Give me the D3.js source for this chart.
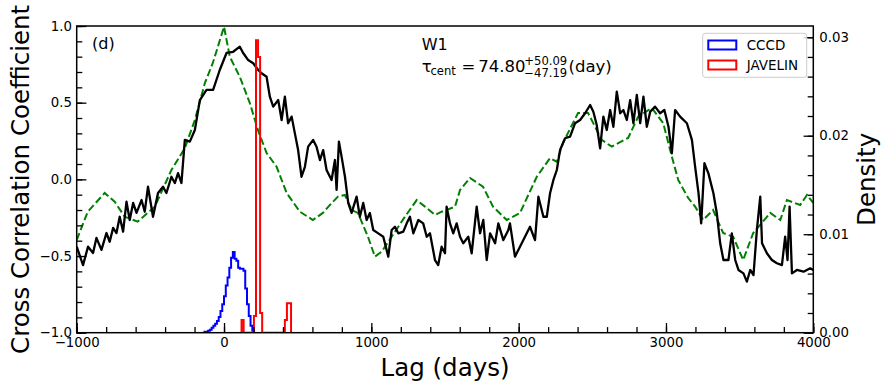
<!DOCTYPE html>
<html>
<head>
<meta charset="utf-8">
<script src="https://cdn.jsdelivr.net/npm/d3@7"></script>
<style>
  body { margin: 0; background: #fff; }
  text { font-family: "DejaVu Sans", sans-serif; fill: #000; }
</style>
</head>
<body>
<script>
// CCF of the W1 light curve (black, solid)
var ccfLag = [-1000,-957,-923,-889,-866,-832,-798,-776,-753,-730,
  -708,-685,-662,-640,-617,-594,-560,-538,-516,-482,
  -448,-414,-391,-357,-334,-312,-289,-266,-232,-198,
  -164,-119,-74,-29,17,62,107,130,164,198,
  232,255,289,311,334,368,391,413,435,459,
  481,503,526,549,571,605,628,651,673,696,
  730,753,764,780,798,821,843,866,900,922,
  945,968,990,1013,1047,1081,1115,1138,1160,1183,
  1217,1240,1262,1285,1319,1352,1376,1398,1432,1454,
  1477,1500,1511,1534,1556,1579,1602,1624,1658,1681,
  1715,1738,1760,1783,1806,1840,1862,1896,1930,1941,
  1975,2009,2043,2077,2111,2134,2168,2191,2213,2236,
  2259,2281,2315,2349,2383,2417,2451,2485,2507,2530,
  2553,2575,2598,2621,2643,2666,2689,2711,2734,2757,
  2779,2802,2825,2847,2870,2893,2926,2960,2989,3017,
  3040,3062,3096,3142,3176,3198,3221,3239,3261,3288,
  3322,3345,3368,3390,3424,3447,3470,3492,3526,3549,
  3572,3594,3617,3640,3652,3685,3719,3753,3787,3809,
  3825,3839,3855,3889,3934,3979,4000];
var ccfValue = [-0.439,-0.559,-0.439,-0.480,-0.382,-0.460,-0.350,-0.407,-0.317,-0.350,
  -0.244,-0.341,-0.146,-0.265,-0.154,-0.219,-0.135,-0.211,-0.048,-0.244,
  -0.089,-0.048,-0.089,0.017,-0.024,0.041,-0.024,0.257,0.246,0.322,
  0.517,0.583,0.583,0.713,0.824,0.832,0.865,0.824,0.778,0.757,
  0.713,0.692,0.669,0.539,0.474,0.517,0.387,0.539,0.366,0.409,
  0.300,0.191,0.017,0.082,0.213,0.257,0.213,0.126,0.191,0.061,
  -0.004,0.126,-0.069,0.246,0.148,0.017,-0.154,-0.219,-0.113,-0.244,
  -0.154,-0.265,-0.219,-0.330,-0.352,-0.374,-0.504,-0.330,-0.309,-0.352,
  -0.341,-0.287,-0.244,-0.352,-0.265,-0.287,-0.374,-0.352,-0.526,-0.559,
  -0.439,-0.482,-0.178,-0.287,-0.352,-0.287,-0.374,-0.417,-0.374,-0.482,
  -0.178,-0.352,-0.265,-0.526,-0.352,-0.417,-0.287,-0.396,-0.330,-0.287,
  -0.504,-0.439,-0.374,-0.309,-0.396,-0.113,-0.244,-0.244,-0.091,-0.004,
  0.061,0.191,0.268,0.278,0.366,0.387,0.431,0.485,0.441,0.354,
  0.202,0.409,0.322,0.452,0.343,0.572,0.431,0.452,0.387,0.517,
  0.366,0.550,0.366,0.539,0.343,0.441,0.474,0.431,0.452,0.343,
  0.170,0.452,0.409,0.366,0.257,0.082,-0.091,-0.287,0.105,0.039,
  -0.091,-0.221,-0.417,-0.526,-0.526,-0.352,-0.526,-0.591,-0.613,-0.667,
  -0.591,-0.624,-0.330,-0.113,-0.417,-0.482,-0.526,-0.547,-0.559,-0.374,
  -0.526,-0.178,-0.613,-0.591,-0.602,-0.580,-0.591];

// green dashed curve
var acfLag = [-1000,-925,-810,-742,-674,-586,-470,-357,-266,-198,-130,-76,0,39,107,175,230,289,357,425,
  515,603,671,719,773,821,866,909,977,1024,1070,1138,1228,1308,1364,1432,1477,1568,1602,1670,
  1758,1826,1919,2009,2123,2213,2259,2301,2403,2471,2564,2632,2743,2811,2904,2981,3040,3083,3151,3198,
  3252,3320,3388,3456,3524,3592,3708,3776,3821,3911,3957,4000];
var acfValue = [-0.395,-0.211,-0.089,-0.146,-0.244,-0.276,-0.178,0.061,0.204,0.387,0.628,0.759,0.995,0.800,0.669,0.498,0.322,0.172,0.082,-0.089,
  -0.211,-0.265,-0.219,-0.167,-0.113,-0.102,-0.200,-0.219,-0.374,-0.504,-0.472,-0.374,-0.244,-0.135,-0.178,-0.232,-0.211,-0.178,-0.069,0.009,
  -0.048,-0.178,-0.265,-0.219,0.017,0.139,0.115,0.237,0.433,0.433,0.257,0.213,0.270,0.409,0.465,0.367,0.148,-0.004,-0.122,-0.178,
  -0.265,-0.200,-0.350,-0.374,-0.526,-0.350,-0.219,-0.265,-0.135,-0.167,-0.102,-0.154];

// CCCD centroid distribution (left bin edges, density)
var cccdEdges = [-144,-132,-120,-108,-96,-84,-72,-60,-48,-36,-24,-12,0,12,24,36,48,60,72,84,96,108,120,132,144,156,168,180,192,204];
var cccdDensity = [0.0,0.0001,0.0001,0.0002,0.0003,0.0005,0.0007,0.0009,0.0012,0.0016,0.0022,0.0029,0.0037,0.0048,0.0056,
  0.0066,0.0076,0.0082,0.0075,0.0073,0.0066,0.0065,0.0065,0.0063,0.0045,0.0029,0.0017,0.0007,0.0002];

// JAVELIN lag distribution
var javEdges = [119,133,147,161,175,189,203,217,231,245,259,273,287,301,315,329,343,357,371,385,399,413,427,441,455];
var javDensity = [0.0013,0,0,0,0,0,0.0017,0.0297,0.0280,0.0020,0,0,0,0,0,0,0,0,0,0,0,0.0013,0.0030,0.0030];

var xTicks = [-1000,0,1000,2000,3000,4000];
var yTicks = [-1.0,-0.5,0.0,0.5,1.0];
var dTicks = [0.00,0.01,0.02,0.03];

var width = 888, height = 391;
var x0 = 76.7, x1 = 813.3, y0 = 26, y1 = 332.7;

var svg = d3.select("body").append("svg")
  .attr("width", width)
  .attr("height", height);

var x = d3.scaleLinear().domain([-1000, 4000]).range([x0, x1]);
var y = d3.scaleLinear().domain([-1, 1]).range([y1, y0]);
var yd = d3.scaleLinear().domain([0, 0.03114]).range([y1, y0]);

svg.append("clipPath").attr("id", "plotclip")
  .append("rect").attr("x", x0).attr("y", y0).attr("width", x1 - x0).attr("height", y1 - y0);

var plot = svg.append("g").attr("clip-path", "url(#plotclip)");

var line = d3.line().x(function(d){ return x(d[0]); }).y(function(d){ return y(d[1]); });

// green dashed
plot.append("path")
  .datum(d3.zip(acfLag, acfValue))
  .attr("d", line)
  .attr("fill", "none")
  .attr("stroke", "#008000")
  .attr("stroke-width", 2)
  .attr("stroke-dasharray", "7.4,3.2");

// black ccf
plot.append("path")
  .datum(d3.zip(ccfLag, ccfValue))
  .attr("d", line)
  .attr("fill", "none")
  .attr("stroke", "#000")
  .attr("stroke-width", 2.3)
  .attr("stroke-linejoin", "round");

// step histograms on the density axis
function stepPoints(edges, vals){
  var pts = [[edges[0], 0]];
  vals.forEach(function(v, i){
    pts.push([edges[i], v]);
    pts.push([edges[i + 1], v]);
  });
  pts.push([edges[edges.length - 1], 0]);
  return pts;
}
var hline = d3.line().x(function(d){ return x(d[0]); }).y(function(d){ return yd(d[1]); });

plot.append("path")
  .datum(stepPoints(cccdEdges, cccdDensity))
  .attr("d", hline)
  .attr("fill", "none")
  .attr("stroke", "#0000ff")
  .attr("stroke-width", 2);

plot.append("path")
  .datum(stepPoints(javEdges, javDensity))
  .attr("d", hline)
  .attr("fill", "none")
  .attr("stroke", "#ff0000")
  .attr("stroke-width", 2);

// axes, ticks pointing in
function minorRange(a, b, s){
  var out = [];
  for (var v = a; v <= b + 1e-9; v += s) out.push(+v.toFixed(6));
  return out;
}

svg.append("g").attr("transform", "translate(0," + y1 + ")")
  .call(d3.axisBottom(x).tickValues(xTicks).tickFormat(d3.format("d"))
    .tickSizeInner(-9.7).tickSizeOuter(0).tickPadding(5));
svg.append("g").attr("transform", "translate(0," + y1 + ")")
  .call(d3.axisBottom(x).tickValues(minorRange(-1000, 4000, 200)).tickFormat("")
    .tickSizeInner(-5.6).tickSizeOuter(0));

svg.append("g").attr("transform", "translate(" + x0 + ",0)")
  .call(d3.axisLeft(y).tickValues(yTicks).tickFormat(d3.format(".1f"))
    .tickSizeInner(-9.7).tickSizeOuter(0).tickPadding(4.8));
svg.append("g").attr("transform", "translate(" + x0 + ",0)")
  .call(d3.axisLeft(y).tickValues(minorRange(-1, 1, 0.1)).tickFormat("")
    .tickSizeInner(-5.6).tickSizeOuter(0));

svg.append("g").attr("transform", "translate(" + x1 + ",0)")
  .call(d3.axisRight(yd).tickValues(dTicks).tickFormat(d3.format(".2f"))
    .tickSizeInner(-9.7).tickSizeOuter(0).tickPadding(6));
svg.append("g").attr("transform", "translate(" + x1 + ",0)")
  .call(d3.axisRight(yd).tickValues(minorRange(0, 0.030, 0.002)).tickFormat("")
    .tickSizeInner(-5.6).tickSizeOuter(0));

svg.selectAll(".domain").remove();
svg.selectAll(".tick line").attr("stroke", "#000").attr("stroke-width", 1.3);
svg.selectAll(".tick text").style("font-size", "13.3px").attr("fill", "#000");

// frame
svg.append("rect")
  .attr("x", x0).attr("y", y0)
  .attr("width", x1 - x0).attr("height", y1 - y0)
  .attr("fill", "none")
  .attr("stroke", "#000")
  .attr("stroke-width", 1.5);

// axis labels
svg.append("text")
  .attr("transform", "translate(29," + ((y0 + y1) / 2) + ") rotate(-90)")
  .attr("text-anchor", "middle")
  .style("font-size", "24.5px")
  .text("Cross Correlation Coefficient");

svg.append("text")
  .attr("x", (x0 + x1) / 2).attr("y", 376)
  .attr("text-anchor", "middle")
  .style("font-size", "24.5px")
  .text("Lag (days)");

svg.append("text")
  .attr("transform", "translate(875," + ((y0 + y1) / 2) + ") rotate(-90)")
  .attr("text-anchor", "middle")
  .style("font-size", "24.5px")
  .text("Density");

// annotations
svg.append("text").attr("x", 92).attr("y", 49).style("font-size", "16px").text("(d)");
svg.append("text").attr("x", 421.7).attr("y", 50).style("font-size", "16px").text("W1");

var tau = svg.append("g");
tau.append("text").attr("x", 421.7).attr("y", 72.3).style("font-size", "16.5px").text("τ");
tau.append("text").attr("x", 430.5).attr("y", 75).style("font-size", "11.6px").text("cent");
tau.append("text").attr("x", 461.5).attr("y", 72.3).style("font-size", "16.5px").text("=");
tau.append("text").attr("x", 478.3).attr("y", 72.3).style("font-size", "16.5px").text("74.80");
tau.append("text").attr("x", 524.3).attr("y", 64.5).style("font-size", "11.6px").text("+50.09");
tau.append("text").attr("x", 524.3).attr("y", 77.2).style("font-size", "11.6px").text("\u221247.19");
tau.append("text").attr("x", 568.5).attr("y", 72.3).style("font-size", "16.5px").text("(day)");

// legend
var leg = svg.append("g");
leg.append("rect")
  .attr("x", 702.7).attr("y", 33.3).attr("width", 104).attr("height", 44)
  .attr("rx", 2.5)
  .attr("fill", "#fff").attr("fill-opacity", 0.8)
  .attr("stroke", "#cccccc").attr("stroke-width", 1);
var legItems = [["CCCD", "#0000ff"], ["JAVELIN", "#ff0000"]];
legItems.forEach(function(it, i){
  leg.append("rect")
    .attr("x", 708.3).attr("y", 40.5 + i * 20)
    .attr("width", 28).attr("height", 9)
    .attr("fill", "none").attr("stroke", it[1]).attr("stroke-width", 2);
  leg.append("text")
    .attr("x", 746.7).attr("y", 50 + i * 20)
    .style("font-size", "13.5px")
    .text(it[0]);
});
</script>
</body>
</html>
